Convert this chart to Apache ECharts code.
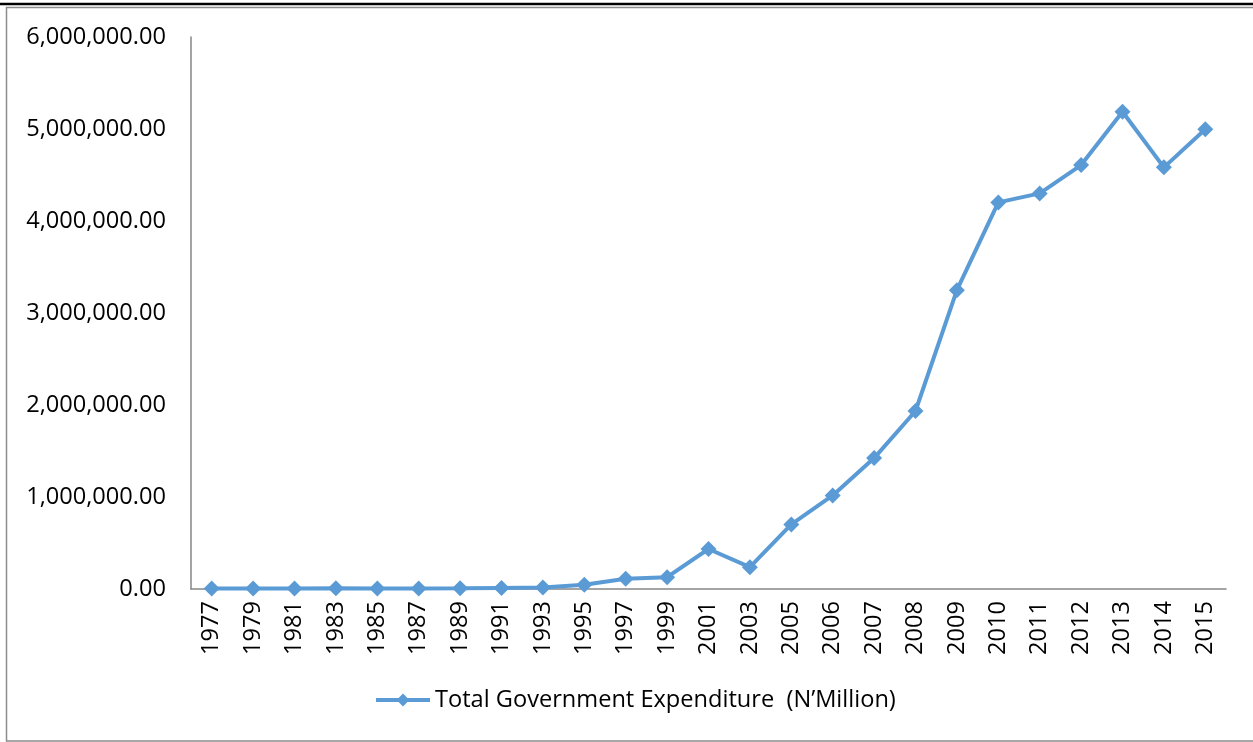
<!DOCTYPE html>
<html>
<head>
<meta charset="utf-8">
<script src="https://cdn.jsdelivr.net/npm/echarts@6/dist/echarts.min.js"></script>
<style>
html,body{margin:0;padding:0;background:#fff;}
#chart{width:1253px;height:742px;}
</style>
</head>
<body>
<div id="chart"></div>
<script>
const years = ['1977','1979','1981','1983','1985','1987','1989','1991','1993','1995','1997','1999','2001','2003','2005','2006','2007','2008','2009','2010','2011','2012','2013','2014','2015'];
const expenditure = [5000, 4800, 6500, 7000, 6000, 4500, 7500, 12000, 15000, 45700, 111000, 128400, 435000, 237000, 702000, 1017000, 1423000, 1935000, 3248000, 4202000, 4300000, 4608000, 5188000, 4583000, 4997000];
const seriesName = 'Total Government Expenditure  (N\u2019Million)';
const yTicks = { min: 0, max: 6000000, interval: 1000000 };

const FONT = 'Open Sans';
const FS = 23.6;
const chart = echarts.init(document.getElementById('chart'), null, { renderer: 'canvas' });
chart.setOption({
  backgroundColor: '#ffffff',
  animation: false,
  textStyle: { fontFamily: FONT, color: '#000' },
  graphic: [
    { type: 'line', shape: { x1: 0, y1: 4, x2: 1253, y2: 4 }, style: { stroke: '#000', lineWidth: 2.5 } },
    { type: 'rect', shape: { x: 6.5, y: 7.5, width: 1270, height: 733.5 }, style: { fill: 'none', stroke: '#8c8c8c', lineWidth: 1.5 } }
  ],
  grid: { left: 191, right: 27, top: 37, bottom: 153, containLabel: false },
  legend: {
    bottom: 25,
    left: 369,
    itemWidth: 54,
    itemHeight: 16,
    itemGap: 6,
    lineStyle: { width: 4 },
    textStyle: { fontFamily: FONT, fontSize: FS, color: '#000' },
    data: [seriesName]
  },
  xAxis: {
    type: 'category',
    data: years,
    boundaryGap: true,
    axisLine: { lineStyle: { color: '#868686', width: 1.5 } },
    axisTick: { show: false },
    axisLabel: { rotate: 90, interval: 0, fontFamily: FONT, fontSize: FS, color: '#000', margin: 12 },
    splitLine: { show: false }
  },
  yAxis: {
    type: 'value',
    min: yTicks.min,
    max: yTicks.max,
    interval: yTicks.interval,
    axisLine: { show: true, lineStyle: { color: '#868686', width: 1.5 } },
    axisTick: { show: false },
    splitLine: { show: false },
    axisLabel: {
      fontFamily: FONT, fontSize: FS, color: '#000', margin: 25,
      formatter: v => v.toLocaleString('en-US', { minimumFractionDigits: 2, maximumFractionDigits: 2 })
    }
  },
  series: [{
    name: seriesName,
    type: 'line',
    data: expenditure,
    symbol: 'diamond',
    symbolSize: 16,
    lineStyle: { color: '#5B9BD5', width: 4 },
    itemStyle: { color: '#5B9BD5' }
  }]
});
</script>
</body>
</html>
